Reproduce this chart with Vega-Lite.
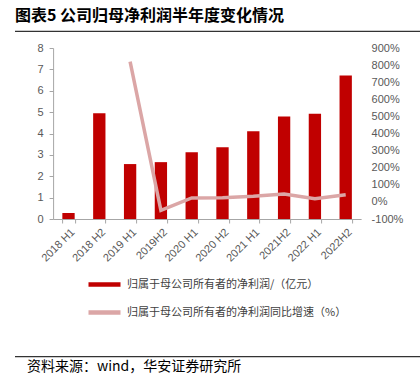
{
  "$schema": "https://vega.github.io/schema/vega-lite/v6.json",
  "padding": {"left": 15, "top": 8, "right": 0, "bottom": 0},
  "background": "white",
  "title": {"text": "图表5 公司归母净利润半年度变化情况", "anchor": "start", "frame": "bounds", "font": "Noto Sans CJK SC", "fontSize": 16, "fontWeight": "bold", "color": "#000000", "offset": -2},
  "config": {"view": {"stroke": null}, "font": "Noto Sans CJK SC"},
  "spacing": 10,
  "center": true,
  "vconcat": [
    {"width": 426, "height": 10, "data": {"values": [{"a": 0, "b": 1, "y1": 0, "y2": 1.2}]}, "mark": {"type": "rect", "color": "#333333"},
      "encoding": {"x": {"field": "a", "type": "quantitative", "scale": {"domain": [0, 1]}, "axis": null}, "x2": {"field": "b"}, "y": {"field": "y1", "type": "quantitative", "scale": {"domain": [0, 10]}, "axis": null}, "y2": {"field": "y2"}}},
    {
      "spacing": 92,
      "center": true,
      "vconcat": [
        {
          "width": 308,
          "height": 171,
          "data": {"values": [
            {"period": "2018 H1", "profit": 0.28, "growth": null},
            {"period": "2018 H2", "profit": 4.95, "growth": null},
            {"period": "2019 H1", "profit": 2.57, "growth": 820},
            {"period": "2019H2", "profit": 2.66, "growth": -49},
            {"period": "2020 H1", "profit": 3.12, "growth": 23},
            {"period": "2020 H2", "profit": 3.36, "growth": 24},
            {"period": "2021 H1", "profit": 4.11, "growth": 33},
            {"period": "2021H2", "profit": 4.80, "growth": 46},
            {"period": "2022 H1", "profit": 4.92, "growth": 19},
            {"period": "2022H2", "profit": 6.71, "growth": 42}
          ]},
          "encoding": {
            "x": {"field": "period", "type": "ordinal", "sort": null,
              "scale": {"paddingInner": 0.6, "paddingOuter": 0.3},
              "axis": {"title": null, "labelAngle": -45, "labelFontSize": 11, "labelFont": "Liberation Sans", "labelColor": "#595959", "tickBand": "extent", "tickSize": 4, "tickColor": "#A6A6A6", "domainColor": "#A6A6A6", "labelPadding": 3}}
          },
          "layer": [
            {
              "mark": {"type": "bar"},
              "encoding": {
                "y": {"field": "profit", "type": "quantitative", "scale": {"domain": [0, 8]},
                  "axis": {"title": null, "values": [0,1,2,3,4,5,6,7,8], "grid": false, "tickSize": 4, "labelPadding": 6, "labelFontSize": 11, "labelFont": "Liberation Sans", "labelColor": "#595959", "domainColor": "#A6A6A6", "tickColor": "#A6A6A6"}},
                "color": {"datum": "归属于母公司所有者的净利润/（亿元）",
                  "scale": {"domain": ["归属于母公司所有者的净利润/（亿元）", "归属于母公司所有者的净利润同比增速（%）"], "range": ["#C00000", "#DBA6A6"]},
                  "legend": {"orient": "none", "legendX": 71, "legendY": 244, "direction": "vertical", "title": null, "symbolType": "stroke", "symbolSize": 1024, "symbolStrokeWidth": 4.5, "labelFontSize": 11, "labelFont": "Noto Sans CJK SC", "labelColor": "#404040", "labelOffset": 4, "labelLimit": 0, "rowPadding": -18,
                    "encode": {"symbols": {"update": {"fill": {"value": "transparent"}, "stroke": {"scale": "color", "field": "value"}}}}}}
              }
            },
            {
              "mark": {"type": "line", "strokeWidth": 3.5},
              "encoding": {
                "y": {"field": "growth", "type": "quantitative", "scale": {"domain": [-100, 900]},
                  "axis": {"orient": "right", "title": null, "values": [-100,0,100,200,300,400,500,600,700,800,900], "labelExpr": "datum.value + '%'", "grid": false, "domain": false, "ticks": false, "labelPadding": 10, "labelFontSize": 11, "labelFont": "Liberation Sans", "labelColor": "#595959"}},
                "color": {"datum": "归属于母公司所有者的净利润同比增速（%）"}
              }
            }
          ],
          "resolve": {"scale": {"y": "independent"}}
        },
        {"width": 426, "height": 10, "data": {"values": [{"a": 0, "b": 1, "y1": 8.8, "y2": 10}]}, "mark": {"type": "rect", "color": "#333333"},
          "encoding": {"x": {"field": "a", "type": "quantitative", "scale": {"domain": [0, 1]}, "axis": null}, "x2": {"field": "b"}, "y": {"field": "y1", "type": "quantitative", "scale": {"domain": [0, 10]}, "axis": null}, "y2": {"field": "y2"}},
          "title": {"text": "资料来源：wind，华安证券研究所", "orient": "bottom", "anchor": "start", "dx": 12, "font": "Noto Sans CJK SC", "fontSize": 14, "fontWeight": "normal", "color": "#000000", "offset": -6}}
      ]
    }
  ]
}
